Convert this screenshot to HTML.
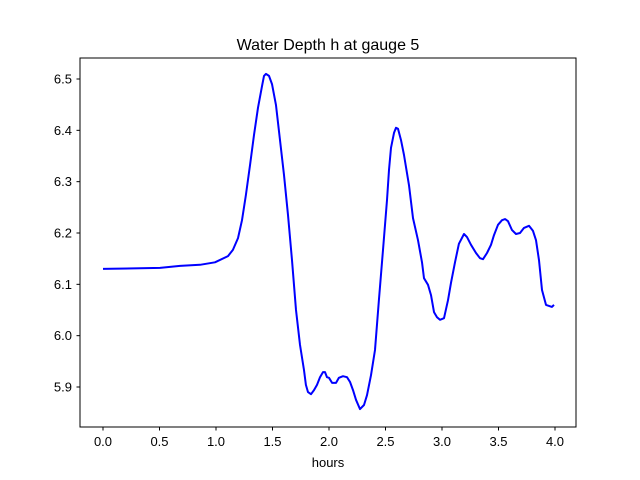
<!DOCTYPE html>
<html><head><meta charset="utf-8"><style>
html,body{margin:0;padding:0;background:#fff;}
svg{display:block;font-family:"Liberation Sans","DejaVu Sans",sans-serif;}
</style></head><body>
<svg id="chart" width="640" height="480" viewBox="0 0 640 480">
<rect x="0" y="0" width="640" height="480" fill="#fff"/>
<text x="328" y="50" font-size="16" text-anchor="middle">Water Depth h at gauge 5</text>
<g id="xticks"></g>
<g id="yticks"></g>
<path id="line" fill="none" stroke="#0000ff" stroke-width="2" stroke-linejoin="round"/>
<rect x="80" y="58" width="496" height="369" fill="none" stroke="#000" stroke-width="1"/>
<text x="328" y="467" font-size="13" text-anchor="middle">hours</text>
</svg>
<script>
const hours=[0.00,0.504,0.681,0.858,0.991,1.106,1.150,1.195,1.230,1.265,1.301,1.336,1.372,1.407,1.425,1.442,1.469,1.496,1.531,1.566,1.602,1.637,1.673,1.708,1.743,1.779,1.796,1.814,1.841,1.867,1.894,1.920,1.947,1.965,1.982,2.000,2.027,2.062,2.088,2.124,2.159,2.186,2.212,2.239,2.274,2.310,2.336,2.372,2.407,2.442,2.478,2.513,2.531,2.549,2.575,2.593,2.611,2.637,2.664,2.708,2.743,2.788,2.823,2.841,2.876,2.903,2.929,2.956,2.982,3.018,3.053,3.080,3.115,3.150,3.195,3.221,3.257,3.301,3.336,3.363,3.398,3.434,3.460,3.496,3.531,3.558,3.584,3.619,3.655,3.690,3.726,3.770,3.805,3.832,3.858,3.885,3.920,3.947,3.973,3.991];
const depth=[6.130,6.132,6.136,6.138,6.143,6.155,6.167,6.190,6.225,6.274,6.332,6.391,6.444,6.486,6.506,6.510,6.506,6.490,6.449,6.381,6.313,6.235,6.147,6.050,5.982,5.933,5.904,5.890,5.886,5.894,5.904,5.919,5.929,5.929,5.919,5.918,5.908,5.908,5.918,5.921,5.919,5.910,5.894,5.875,5.857,5.865,5.884,5.923,5.972,6.069,6.167,6.264,6.323,6.366,6.395,6.405,6.403,6.381,6.352,6.293,6.229,6.186,6.143,6.112,6.099,6.079,6.046,6.036,6.031,6.034,6.069,6.103,6.143,6.179,6.198,6.192,6.177,6.161,6.151,6.149,6.161,6.177,6.196,6.216,6.225,6.227,6.223,6.206,6.198,6.200,6.210,6.214,6.204,6.186,6.147,6.089,6.060,6.058,6.056,6.060];
const xTickLabels=["0.0","0.5","1.0","1.5","2.0","2.5","3.0","3.5","4.0"];
const yTickLabels=["5.9","6.0","6.1","6.2","6.3","6.4","6.5"];
const NS="http://www.w3.org/2000/svg";
function xs(v){return 103+v*113;}
function ys(v){return 79+(6.5-v)*513.33;}
let d="";
for(let i=0;i<hours.length;i++){d+=(i?"L":"M")+xs(hours[i]).toFixed(1)+","+ys(depth[i]).toFixed(1);}
const line=document.getElementById("line");
line.setAttribute("d",d);
const xg=document.getElementById("xticks");
xTickLabels.forEach(function(t){
  const x=xs(parseFloat(t));
  const l=document.createElementNS(NS,"line");
  l.setAttribute("x1",x);l.setAttribute("x2",x);l.setAttribute("y1",427);l.setAttribute("y2",430.5);l.setAttribute("stroke","#000");
  
  
  xg.appendChild(l);
  const tx=document.createElementNS(NS,"text");
  tx.setAttribute("x",x);tx.setAttribute("y",446);tx.setAttribute("font-size","13");tx.setAttribute("text-anchor","middle");
  tx.textContent=t;
  
  
  xg.appendChild(tx);
});
const yg=document.getElementById("yticks");
yTickLabels.forEach(function(t){
  const y=ys(parseFloat(t));
  const l=document.createElementNS(NS,"line");
  l.setAttribute("x1",76.5);l.setAttribute("x2",80);l.setAttribute("y1",y);l.setAttribute("y2",y);l.setAttribute("stroke","#000");
  
  
  yg.appendChild(l);
  const tx=document.createElementNS(NS,"text");
  tx.setAttribute("x",72);tx.setAttribute("y",y+4.5);tx.setAttribute("font-size","13");tx.setAttribute("text-anchor","end");
  tx.textContent=t;
  
  
  yg.appendChild(tx);
});
</script>
</body></html>
